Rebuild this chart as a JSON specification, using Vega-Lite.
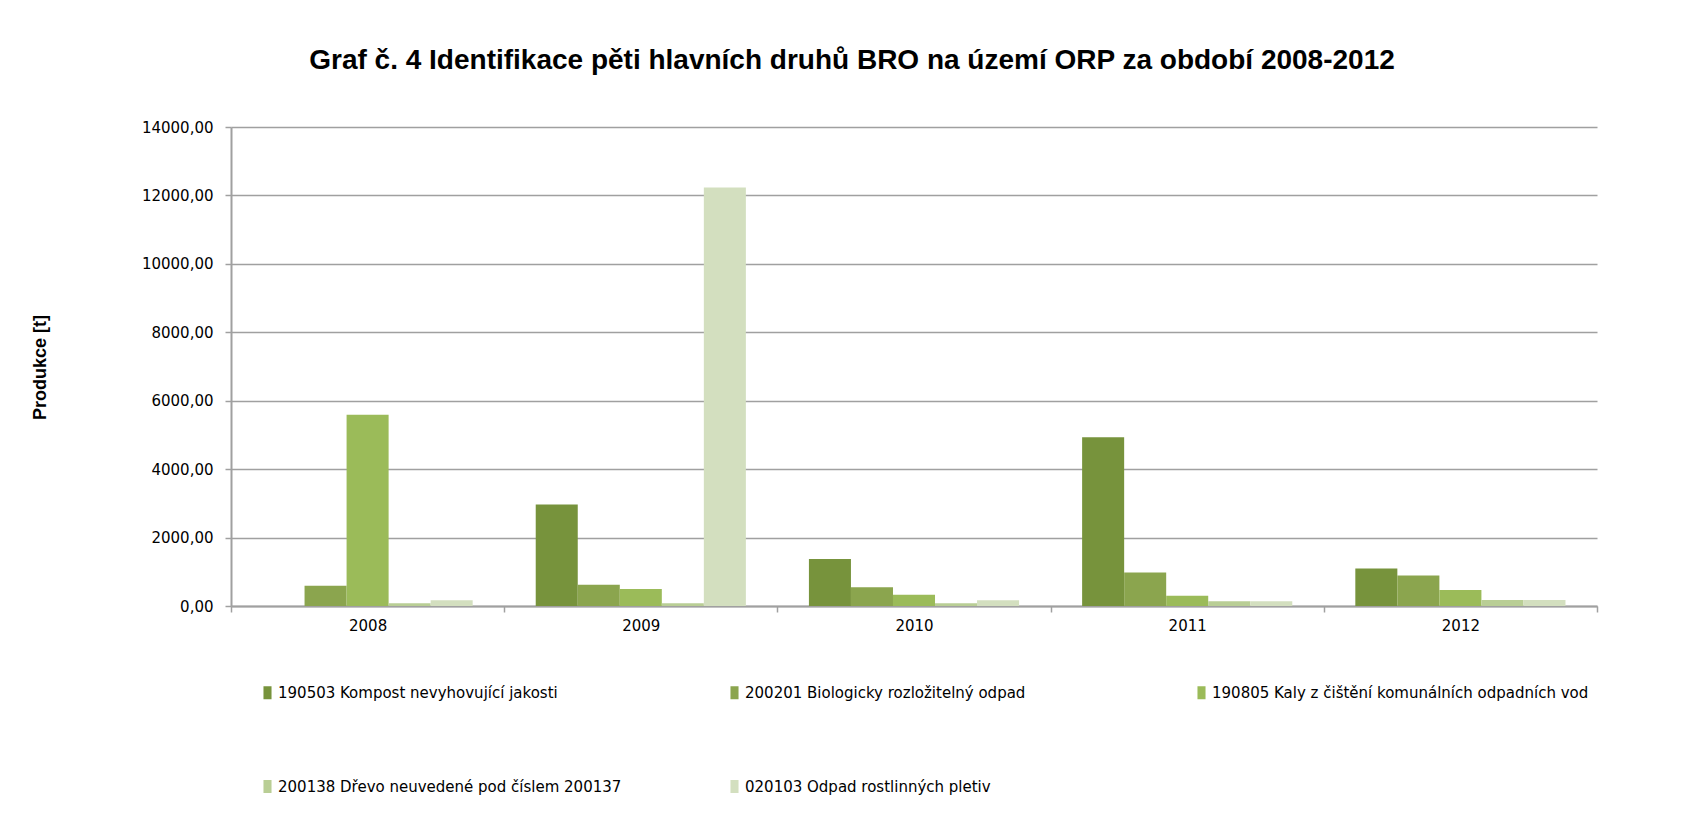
{
  "$schema": "https://vega.github.io/schema/vega-lite/v6.json",
  "width": 1366,
  "height": 479,
  "autosize": {"type": "none"},
  "padding": {"left": 231, "top": 127, "right": 90, "bottom": 230},
  "background": "white",
  "title": {
    "text": "Graf č. 4 Identifikace pěti hlavních druhů BRO na území ORP za období 2008-2012",
    "font": "Liberation Sans",
    "fontSize": 28,
    "fontWeight": "bold",
    "color": "#000000",
    "anchor": "middle",
    "dx": -62,
    "offset": 45
  },
  "data": {
    "values": [
      {"rok": "2008", "druh": "190503 Kompost nevyhovující jakosti", "produkce": 0},
      {"rok": "2008", "druh": "200201 Biologicky rozložitelný odpad", "produkce": 590},
      {"rok": "2008", "druh": "190805 Kaly z čištění komunálních odpadních vod", "produkce": 5590},
      {"rok": "2008", "druh": "200138 Dřevo neuvedené pod číslem 200137", "produkce": 80},
      {"rok": "2008", "druh": "020103 Odpad rostlinných pletiv", "produkce": 170},
      {"rok": "2009", "druh": "190503 Kompost nevyhovující jakosti", "produkce": 2970},
      {"rok": "2009", "druh": "200201 Biologicky rozložitelný odpad", "produkce": 624},
      {"rok": "2009", "druh": "190805 Kaly z čištění komunálních odpadních vod", "produkce": 500},
      {"rok": "2009", "druh": "200138 Dřevo neuvedené pod číslem 200137", "produkce": 78},
      {"rok": "2009", "druh": "020103 Odpad rostlinných pletiv", "produkce": 12230},
      {"rok": "2010", "druh": "190503 Kompost nevyhovující jakosti", "produkce": 1376},
      {"rok": "2010", "druh": "200201 Biologicky rozložitelný odpad", "produkce": 546},
      {"rok": "2010", "druh": "190805 Kaly z čištění komunálních odpadních vod", "produkce": 332},
      {"rok": "2010", "druh": "200138 Dřevo neuvedené pod číslem 200137", "produkce": 78},
      {"rok": "2010", "druh": "020103 Odpad rostlinných pletiv", "produkce": 166},
      {"rok": "2011", "druh": "190503 Kompost nevyhovující jakosti", "produkce": 4934},
      {"rok": "2011", "druh": "200201 Biologicky rozložitelný odpad", "produkce": 977},
      {"rok": "2011", "druh": "190805 Kaly z čištění komunálních odpadních vod", "produkce": 303},
      {"rok": "2011", "druh": "200138 Dřevo neuvedené pod číslem 200137", "produkce": 137},
      {"rok": "2011", "druh": "020103 Odpad rostlinných pletiv", "produkce": 137},
      {"rok": "2012", "druh": "190503 Kompost nevyhovující jakosti", "produkce": 1094},
      {"rok": "2012", "druh": "200201 Biologicky rozložitelný odpad", "produkce": 889},
      {"rok": "2012", "druh": "190805 Kaly z čištění komunálních odpadních vod", "produkce": 469},
      {"rok": "2012", "druh": "200138 Dřevo neuvedené pod číslem 200137", "produkce": 176},
      {"rok": "2012", "druh": "020103 Odpad rostlinných pletiv", "produkce": 176}
    ]
  },
  "mark": {"type": "bar"},
  "encoding": {
    "x": {
      "field": "rok",
      "type": "nominal",
      "scale": {"paddingInner": 0, "paddingOuter": 0},
      "axis": {
        "title": null,
        "labelAngle": 0,
        "tickBand": "extent",
        "tickSize": 6,
        "tickColor": "#a0a0a0",
        "tickWidth": 1.5,
        "labelPadding": 6,
        "labelFont": "DejaVu Sans",
        "labelFontSize": 15,
        "labelColor": "#000000",
        "domainColor": "#a0a0a0",
        "domainWidth": 2,
        "grid": false
      }
    },
    "xOffset": {
      "field": "druh",
      "type": "nominal",
      "sort": [
        "190503 Kompost nevyhovující jakosti",
        "200201 Biologicky rozložitelný odpad",
        "190805 Kaly z čištění komunálních odpadních vod",
        "200138 Dřevo neuvedené pod číslem 200137",
        "020103 Odpad rostlinných pletiv"
      ],
      "scale": {"paddingInner": 0, "paddingOuter": 0.75}
    },
    "y": {
      "field": "produkce",
      "type": "quantitative",
      "scale": {"domain": [0, 14000], "nice": false},
      "axis": {
        "title": "Produkce [t]",
        "titleFont": "Liberation Sans",
        "titleFontSize": 18,
        "titleFontWeight": "bold",
        "titleColor": "#000000",
        "titleX": -191,
        "titleY": 240,
        "titleAngle": -90,
        "titleAlign": "center",
        "titleBaseline": "middle",
        "values": [0, 2000, 4000, 6000, 8000, 10000, 12000, 14000],
        "format": ".2f",
        "labelFont": "DejaVu Sans",
        "labelFontSize": 15,
        "labelColor": "#000000",
        "labelPadding": 12,
        "tickSize": 6,
        "tickColor": "#a0a0a0",
        "tickWidth": 1.5,
        "domainColor": "#a0a0a0",
        "domainWidth": 2,
        "grid": true,
        "gridColor": "#a0a0a0",
        "gridWidth": 1.5
      }
    },
    "color": {
      "field": "druh",
      "type": "nominal",
      "scale": {
        "domain": [
          "190503 Kompost nevyhovující jakosti",
          "200201 Biologicky rozložitelný odpad",
          "190805 Kaly z čištění komunálních odpadních vod",
          "200138 Dřevo neuvedené pod číslem 200137",
          "020103 Odpad rostlinných pletiv"
        ],
        "range": ["#77933C", "#8BA54E", "#9BBB59", "#B9CE95", "#D3DFBF"]
      },
      "legend": {
        "title": null,
        "orient": "none",
        "legendX": 29,
        "legendY": 558,
        "direction": "horizontal",
        "columns": 3,
        "gridAlign": "all",
        "columnPadding": 72,
        "rowPadding": 78,
        "symbolType": "M-0.62,-1H0.62V1H-0.62Z",
        "symbolSize": 169,
        "symbolStrokeWidth": 0,
        "symbolOpacity": 1,
        "labelFont": "DejaVu Sans",
        "labelFontSize": 15,
        "labelColor": "#000000",
        "labelLimit": 600,
        "labelOffset": 3
      }
    }
  },
  "config": {
    "locale": {
      "number": {"decimal": ",", "thousands": " ", "grouping": [3], "currency": ["", " Kč"]}
    },
    "view": {"stroke": null}
  }
}
